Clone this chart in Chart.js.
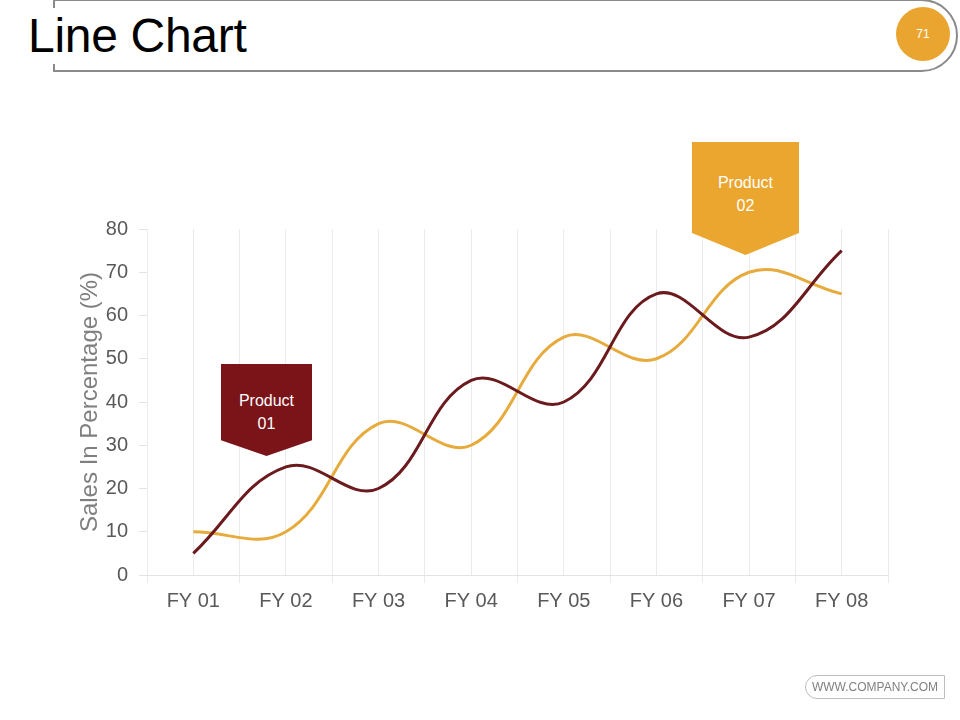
<!DOCTYPE html>
<html>
<head>
<meta charset="utf-8">
<script src="https://cdn.jsdelivr.net/npm/chart.js@4.4.1/dist/chart.umd.min.js"></script>
<style>
  html, body { margin: 0; padding: 0; background: #fff; }
  body { width: 960px; height: 720px; position: relative; overflow: hidden; font-family: "Liberation Sans", Arial, sans-serif; }
  #chart { position: absolute; left: 0; top: 0; }
  .header { position: absolute; left: 53px; top: -1px; width: 905px; height: 73px; border: 2px solid #8a8a8a; border-radius: 0 37px 37px 0; box-sizing: border-box; }
  .title { position: absolute; left: 26px; top: 8px; font-size: 48px; color: #000; background: #fff; padding: 0 2px; line-height: 56px; letter-spacing: -0.3px; }
  .badge { position: absolute; left: 896px; top: 7px; width: 54px; height: 54px; border-radius: 50%; background: #e9a530; color: #fff; font-size: 12px; text-align: center; line-height: 54px; }
  .callout { position: absolute; color: #fff; font-size: 16px; text-align: center; line-height: 23px; }
  .c1 { left: 221px; top: 364px; width: 91px; height: 92px; background: #7a1418; clip-path: polygon(0 0, 100% 0, 100% 83%, 50% 100%, 0 83%); }
  .c2 { left: 692px; top: 142px; width: 107px; height: 113px; background: #eba62f; clip-path: polygon(0 0, 100% 0, 100% 80.5%, 50% 100%, 0 80.5%); }
  .c1 span { display: block; padding-top: 25px; }
  .c2 span { display: block; padding-top: 29px; }
  .footer { position: absolute; left: 805px; top: 675px; width: 140px; height: 24px; border: 1px solid #bdbdbd; border-radius: 12px 0 0 12px; box-sizing: border-box; color: #808080; font-size: 12px; text-align: center; line-height: 22px; }
</style>
</head>
<body>
<canvas id="chart" width="960" height="720"></canvas>
<div class="header"></div>
<div class="title">Line Chart</div>
<div class="badge">71</div>
<div class="callout c1"><span>Product<br>01</span></div>
<div class="callout c2"><span>Product<br>02</span></div>
<div class="footer">WWW.COMPANY.COM</div>
<script>
const categories = ["FY 01", "FY 02", "FY 03", "FY 04", "FY 05", "FY 06", "FY 07", "FY 08"];
const product01 = [5, 25, 20, 45, 40, 65, 55, 75];
const product02 = [10, 10, 35, 30, 55, 50, 70, 65];
const seriesNames = ["Product 01", "Product 02"];
const yTitle = "Sales In Percentage (%)";

const gridColor = "#ebebeb";
new Chart(document.getElementById("chart"), {
  type: "line",
  data: {
    labels: categories,
    datasets: [
      { label: seriesNames[0], data: product01, borderColor: "#6b1a1e", borderWidth: 3, pointRadius: 0, tension: 0.4, fill: false },
      { label: seriesNames[1], data: product02, borderColor: "#e6ab3c", borderWidth: 3, pointRadius: 0, tension: 0.4, fill: false }
    ]
  },
  options: {
    responsive: false,
    animation: false,
    events: [],
    layout: { padding: { left: 72, top: 229, right: 72, bottom: 95 } },
    plugins: { legend: { display: false }, tooltip: { enabled: false } },
    scales: {
      x: {
        type: "category",
        position: "bottom",
        offset: true,
        grid: { offset: true, color: gridColor, tickLength: 8, drawOnChartArea: true },
        border: { display: true, color: "#e3e3e3" },
        ticks: { color: "#595959", font: { family: "Liberation Sans", size: 20 }, padding: 6, maxRotation: 0 },
        afterFit: s => { s.height = 50; }
      },
      x2: {
        type: "category",
        position: "bottom",
        offset: true,
        grid: { offset: false, color: gridColor, drawTicks: false },
        border: { display: false },
        ticks: { display: false },
        afterFit: s => { s.height = 0; }
      },
      y: {
        min: 0, max: 80,
        ticks: { stepSize: 10, color: "#595959", font: { family: "Liberation Sans", size: 20 }, padding: 11 },
        grid: { drawOnChartArea: false, drawTicks: true, tickLength: 8, color: "#e3e3e3" },
        border: { display: false },
        title: { display: true, text: yTitle, color: "#7f7f7f", font: { family: "Liberation Sans", size: 24 }, padding: 4 },
        afterFit: s => { s.width = 75; }
      }
    }
  }
});
</script>
</body>
</html>
